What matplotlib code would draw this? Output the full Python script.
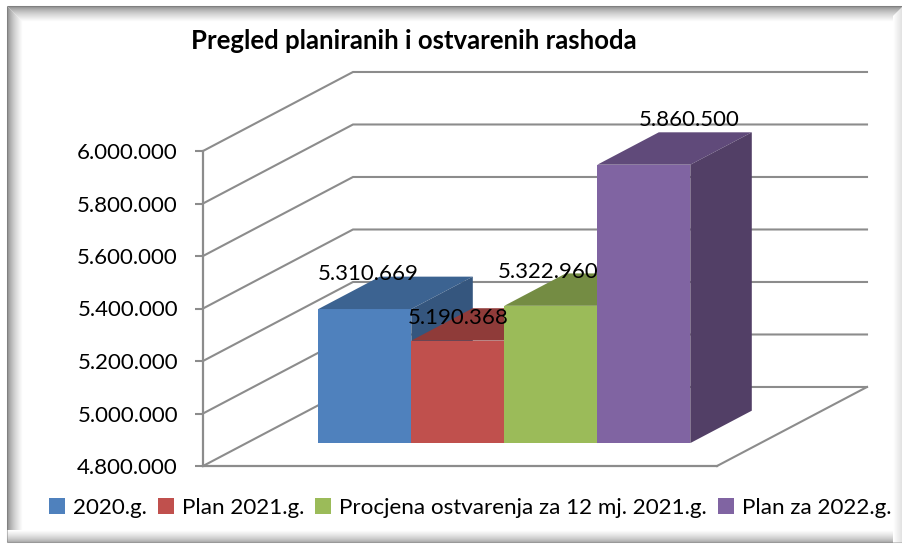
import matplotlib
matplotlib.use("Agg")
import matplotlib.pyplot as plt
from matplotlib.patches import Polygon, Patch
from matplotlib.lines import Line2D
from matplotlib.ticker import FuncFormatter

# data
categories = ["2020.g.", "Plan 2021.g.", "Procjena ostvarenja za 12 mj. 2021.g.", "Plan za 2022.g."]
values = [5310669, 5190368, 5322960, 5860500]
face_cols = ["#4F81BD", "#C0504D", "#9BBB59", "#8064A2"]
top_cols = ["#3C6391", "#8F3B39", "#748C43", "#604A7A"]
side_cols = ["#35567E", "#7E3432", "#667B3B", "#523F66"]
label_off = [(3, 35), (0, 23), (-3, 34), (45, 45)]

W, H = 903, 544
plt.rcParams["font.family"] = ["Lato", "DejaVu Sans"]

fig = plt.figure(figsize=(W / 100, H / 100), dpi=100)
ax = fig.add_axes([203 / W, 1 - 466 / H, 514 / W, 315 / H])

ymin, ymax = 4800000, 6000000
ax.set_ylim(ymin, ymax)
ax.set_xlim(0, 514 / 93)
ax.set_xticks([])
ax.set_yticks(range(ymin, ymax + 1, 200000))
ax.yaxis.set_major_formatter(FuncFormatter(lambda v, p: f"{int(v):,}".replace(",", ".")))
ax.tick_params(axis="y", length=6, width=1.5, color="#8C8C8C", labelsize=16, pad=12)
ax.patch.set_alpha(0)
for s in ["top", "right"]:
    ax.spines[s].set_visible(False)
for s in ["left", "bottom"]:
    ax.spines[s].set_color("#8C8C8C")
    ax.spines[s].set_linewidth(1.6)

# depth direction, one unit = whole floor depth
DX = 150 / 93
DY = 301000
right = 514 / 93


def p(x, v, d):
    return (x + d * DX, v + d * DY)


# walls
for v in range(ymin, ymax + 1, 200000):
    pts = [p(0, v, 0), p(0, v, 1), p(right, v, 1)]
    ax.plot([q[0] for q in pts], [q[1] for q in pts], color="#8C8C8C", lw=1.5,
            clip_on=False, zorder=1, solid_joinstyle="miter")
pts = [p(right, ymin, 1), p(right, ymin, 0)]
ax.plot([q[0] for q in pts], [q[1] for q in pts], color="#8C8C8C", lw=1.5, clip_on=False, zorder=1)

# bars
d0, d1 = 0.29, 0.70
x0 = 0.772
for i, v in enumerate(values):
    a, b = x0 + i, x0 + i + 1
    z = 3 + i
    ax.add_patch(Polygon([p(a, ymin, d0), p(b, ymin, d0), p(b, v, d0), p(a, v, d0)],
                         fc=face_cols[i], ec="none", clip_on=False, zorder=z))
    ax.add_patch(Polygon([p(a, v, d0), p(b, v, d0), p(b, v, d1), p(a, v, d1)],
                         fc=top_cols[i], ec="none", clip_on=False, zorder=z))
    ax.add_patch(Polygon([p(b, ymin, d0), p(b, ymin, d1), p(b, v, d1), p(b, v, d0)],
                         fc=side_cols[i], ec="none", clip_on=False, zorder=z))

for i, v in enumerate(values):
    ax.annotate(f"{v:,}".replace(",", "."), p(x0 + i + 0.5, v, d0), xytext=label_off[i],
                textcoords="offset pixels", ha="center", va="center", fontsize=16,
                color="black", zorder=10, annotation_clip=False)

fig.text(414 / W, 1 - 41 / H, "Pregled planiranih i ostvarenih rashoda", ha="center", va="center",
         fontsize=18.5, fontweight="bold")

handles = [Patch(fc=c, ec="none") for c in face_cols]
fig.legend(handles, categories, loc="center", bbox_to_anchor=(470 / W, 1 - 508 / H), ncol=4, frameon=False,
           fontsize=16.1, handlelength=0.72, handleheight=0.72, handletextpad=0.35, columnspacing=0.5,
           borderpad=0, borderaxespad=0)


# soft grey frame, each side fades inwards
def edge(x1, y1, x2, y2, g):
    fig.add_artist(Line2D([x1 / W, x2 / W], [1 - y1 / H, 1 - y2 / H], color=(g, g, g), lw=0.75, zorder=0,
                          solid_capstyle="butt"))


n = 16
for i in range(n - 1, -1, -1):
    g = 0.5 + 0.5 * (i / (n - 1)) ** 0.6
    edge(7 + i, 6 + i, 7 + i, 542, g)
    edge(7 + i, 6 + i, 903, 6 + i, g)
for i in range(12, -1, -1):
    g = 0.6 + 0.4 * (i / 12) ** 0.6
    edge(7, 542 - i, 903, 542 - i, g)
for i in range(9, -1, -1):
    g = 0.88 + 0.12 * (i / 9)
    edge(902 - i, 6 + i, 902 - i, 542, g)

fig.savefig("out.png", dpi=100)
